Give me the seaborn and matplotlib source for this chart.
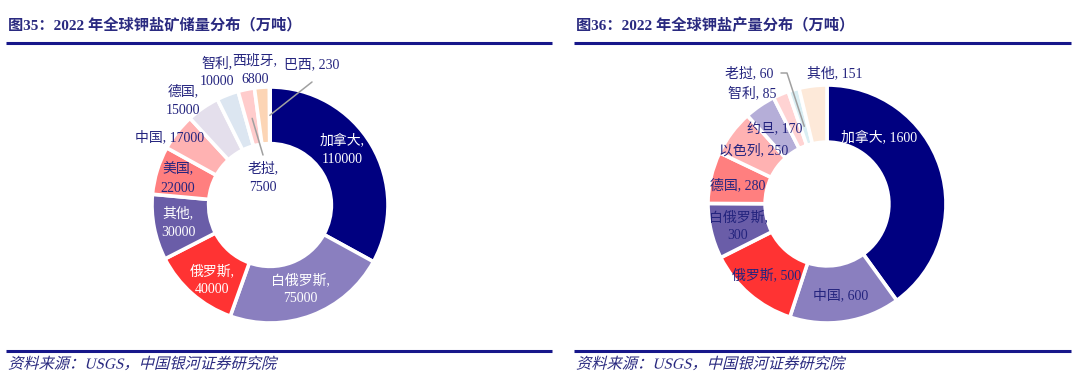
import matplotlib
matplotlib.use("Agg")
import matplotlib.pyplot as plt
import matplotlib.patheffects as pe
from matplotlib.transforms import Affine2D
from matplotlib.lines import Line2D
import seaborn as sns

# ---------------- data ----------------
reserve_names = ["加拿大", "白俄罗斯", "俄罗斯", "其他", "美国", "中国", "德国", "智利", "老挝", "西班牙", "巴西"]
reserve_values = [110000, 75000, 40000, 30000, 22000, 17000, 15000, 10000, 7500, 6800, 230]

prod_names = ["加拿大", "中国", "俄罗斯", "白俄罗斯", "德国", "以色列", "约旦", "智利", "老挝", "其他"]
prod_values = [1600, 600, 500, 300, 280, 250, 170, 85, 60, 151]

title_left = "图35：2022 年全球钾盐矿储量分布（万吨）"
title_right = "图36：2022 年全球钾盐产量分布（万吨）"
source_text = "资料来源：USGS，中国银河证券研究院"

# ---------------- styles ----------------
reserve_colors = ["#000080", "#8A7FBF", "#FF3333", "#6A5DA8", "#FF7F7F", "#FFB2B2",
                  "#E4DFEC", "#DCE6F1", "#FFCCCC", "#FCD5B5", "#C8C8C8"]
prod_colors = ["#000080", "#8A7FBF", "#FF3333", "#6A5DA8", "#FF7F7F", "#FFB2B2",
               "#B5AED8", "#FFD3D3", "#DAEEF3", "#FDE9D9"]
NAVY_TXT = "#24247E"
LINE_C = "#17178A"
LEADER_C = "#A0A0A0"

sns.set_theme(style="white")
plt.rcParams["font.family"] = ["Liberation Serif", "Noto Sans CJK SC"]

W, H = 1080, 390
fig = plt.figure(figsize=(W / 100, H / 100), dpi=100)
fig.patch.set_facecolor("white")


class Oblique(pe.AbstractPathEffect):
    def __init__(self, deg=14):
        super().__init__()
        self.deg = deg

    def draw_path(self, renderer, gc, tpath, affine, rgbFace=None):
        renderer.draw_path(gc, tpath, Affine2D().skew_deg(self.deg, 0) + affine, rgbFace)


def donut(x0, x1, y0, y1, cx, cy, R, values, colors, width):
    ax = fig.add_axes([x0 / W, 1 - y1 / H, (x1 - x0) / W, (y1 - y0) / H])
    pal = sns.color_palette(colors)
    ax.pie(values, colors=pal, startangle=90, counterclock=False, radius=1,
           wedgeprops=dict(width=width, edgecolor="white", linewidth=2.6))
    ax.set_aspect("auto")
    ax.set_xlim((x0 - cx) / R, (x1 - cx) / R)
    ax.set_ylim((cy - y1) / R, (cy - y0) / R)
    ax.axis("off")
    to_d = lambda px, py: ((px - cx) / R, (cy - py) / R)
    return ax, to_d


def mid_point(values, i, r):
    import math
    total = float(sum(values))
    before = sum(values[:i])
    frac = (before + values[i] / 2.0) / total
    ang = math.radians(90 - 360 * frac)
    return r * math.cos(ang), r * math.sin(ang)


# ---------------- left donut ----------------
axL, dL = donut(0, 540, 45, 345, 270, 205, 118, reserve_values, reserve_colors, 0.48)

reserve_label_fmt = ["{n},\n{v}", "{n},\n{v}", "{n},\n{v}", "{n},\n{v}", "{n},\n{v}", "{n}, {v}",
                     "{n},\n{v}", "{n},\n{v}", "{n},\n{v}", "{n},\n{v}", "{n}, {v}"]
reserve_label_pos = [(342, 150), (300, 289), (212, 280), (178, 223), (178, 179), (170, 137),
                     (183, 101), (217, 72), (263, 178), (255, 70), (312, 65)]
reserve_label_col = ["white", "white", "white", "white"] + [NAVY_TXT] * 7

for i, (n, v) in enumerate(zip(reserve_names, reserve_values)):
    x, y = dL(*reserve_label_pos[i])
    axL.text(x, y, reserve_label_fmt[i].format(n=n, v=v), ha="center", va="center",
             fontsize=10, color=reserve_label_col[i], linespacing=1.55, clip_on=False)

# leader lines (老挝, 巴西)
for i, start, r in [(8, (263, 155), 0.75), (10, (312, 82), 0.76)]:
    sx, sy = dL(*start)
    tx, ty = mid_point(reserve_values, i, r)
    axL.plot([sx, tx], [sy, ty], color=LEADER_C, lw=1.1, clip_on=False)

# ---------------- right donut ----------------
axR, dR = donut(540, 1080, 45, 345, 827, 204, 119, prod_values, prod_colors, 0.48)

prod_label_fmt = ["{n}, {v}", "{n}, {v}", "{n}, {v}", "{n},\n{v}", "{n}, {v}",
                  "{n}, {v}", "{n}, {v}", "{n}, {v}", "{n}, {v}", "{n}, {v}"]
prod_label_pos = [(879, 137), (841, 295), (767, 275), (738, 226), (738, 185),
                  (754, 150), (775, 130), (752, 93), (749, 73), (835, 73)]
prod_label_col = ["white"] + [NAVY_TXT] * 9

for i, (n, v) in enumerate(zip(prod_names, prod_values)):
    x, y = dR(*prod_label_pos[i])
    axR.text(x, y, prod_label_fmt[i].format(n=n, v=v), ha="center", va="center",
             fontsize=10, color=prod_label_col[i], linespacing=1.55, clip_on=False)

# leader line (老挝) with elbow
ax1, ay1 = dR(781, 73)
ax2, ay2 = dR(787, 73)
tx, ty = mid_point(prod_values, 8, 0.68)
axR.plot([ax1, ax2, tx], [ay1, ay2, ty], color=LEADER_C, lw=1.1, clip_on=False)

# ---------------- titles, rules, sources ----------------
for xs, title in [((6, 552), title_left), ((574, 1071), title_right)]:
    fig.text((xs[0] + 2) / W, 1 - 26 / H, title, ha="left", va="center", fontsize=11,
             fontweight="bold", color="#2A2A80")
    fig.text((xs[0] + 2) / W, 1 - 364 / H, source_text, ha="left", va="center", fontsize=11,
             color="#2A2A80", path_effects=[Oblique(14)])
    for yy in (43, 351):
        fig.add_artist(Line2D([xs[0] / W, xs[1] / W], [1 - yy / H, 1 - yy / H],
                              color=LINE_C, lw=2.2, solid_capstyle="butt"))

fig.savefig("out.png", dpi=100, facecolor="white")
